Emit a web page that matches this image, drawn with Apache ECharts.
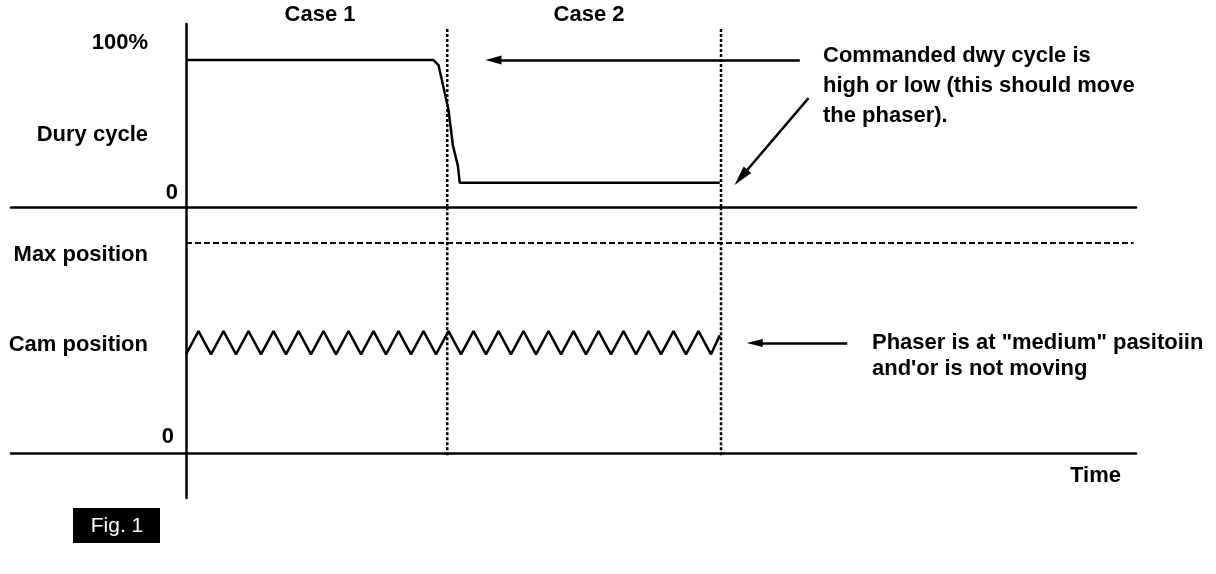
<!DOCTYPE html>
<html>
<head>
<meta charset="utf-8">
<title>Fig. 1</title>
<script src="https://cdn.jsdelivr.net/npm/echarts@6/dist/echarts.min.js"></script>
<style>
  html, body { margin: 0; padding: 0; background: #fff; }
  #chart { width: 1216px; height: 574px; }
</style>
</head>
<body>
<div id="chart"></div>
<script>
// time in half-wiggle units of the cam trace
const dutyTime = [0, 19.8, 20.2, 21.0, 21.35, 21.75, 21.9, 42.7]
const dutyCycle = [100, 100, 96.6, 66, 42, 28, 16.5, 16.5]

const camTime = [0, 1, 2, 3, 4, 5, 6, 7, 8, 9, 10, 11, 12, 13, 14, 15, 16, 17, 18, 19, 20,
  21, 22, 23, 24, 25, 26, 27, 28, 29, 30, 31, 32, 33, 34, 35, 36, 37, 38, 39, 40, 41, 42, 42.7]
const camPosition = [47, 58, 47, 58, 47, 58, 47, 58, 47, 58, 47, 58, 47, 58, 47, 58, 47, 58, 47, 58, 47,
  58, 47, 58, 47, 58, 47, 58, 47, 58, 47, 58, 47, 58, 47, 58, 47, 58, 47, 58, 47, 58, 47, 56]

const maxPosition = 100
const maxPositionEnd = 75.8
const caseBounds = [20.9, 42.8]

const dutyTicks = [0, 50, 100]
const dutyTickLabels = ['0', 'Dury cycle', '100%']
const camTicks = [0, 52.4, 100]
const camTickLabels = ['0', 'Cam position', 'Max position']

const FONT = '"Liberation Sans", Arial, Helvetica, sans-serif'
const black = '#000'
// y axes sit at time 0, i.e. 175px right of the grid edge
const yOffset = -175

function txt(pad) {
  return { fontFamily: FONT, fontSize: 22, fontWeight: 'bold', color: black, padding: pad }
}

function zip(xs, ys) {
  return xs.map((x, i) => [x, ys[i]])
}

function arrow(from, to, size) {
  return [
    { coord: from, symbol: 'none' },
    { coord: to, symbol: 'triangle', symbolSize: size }
  ]
}

const lineOpts = { type: 'line', symbol: 'none', silent: true, animation: false }

const xAxisBase = {
  type: 'value',
  min: -14,
  max: 76,
  axisLine: { show: true, onZero: true, lineStyle: { color: black, width: 2.5 } },
  axisTick: { show: false },
  axisLabel: { show: false },
  splitLine: { show: false }
}

let chart = echarts.init(document.getElementById('chart'))

const option = {
  backgroundColor: '#fff',
  animation: false,
  grid: [
    { left: 11, right: 80, top: 24, height: 183, outerBoundsMode: 'none' },
    { left: 11, right: 80, top: 207, height: 291, outerBoundsMode: 'none' }
  ],
  xAxis: [
    { ...xAxisBase, gridIndex: 0 },
    {
      ...xAxisBase,
      gridIndex: 1,
      name: 'Time',
      nameLocation: 'end',
      nameGap: 0,
      nameTextStyle: { ...txt([12, 15, 0, 0]), align: 'right', verticalAlign: 'top' }
    }
  ],
  yAxis: [
    {
      type: 'value',
      gridIndex: 0,
      min: 0,
      max: 124.5,
      offset: yOffset,
      axisLine: { show: true, onZero: false, lineStyle: { color: black, width: 2.5 } },
      axisTick: { show: false },
      splitLine: { show: false },
      axisLabel: {
        customValues: dutyTicks,
        margin: 8,
        formatter: (v) => {
          const i = dutyTicks.indexOf(v)
          return '{r' + i + '|' + dutyTickLabels[i] + '}'
        },
        rich: {
          r0: txt([0, 0, 28, 0]),
          r1: txt([3, 30, 0, 0]),
          r2: txt([0, 30, 34, 0])
        }
      }
    },
    {
      type: 'value',
      gridIndex: 1,
      min: -21.4,
      max: 117.1,
      offset: yOffset,
      axisLine: { show: true, onZero: false, lineStyle: { color: black, width: 2.5 } },
      axisTick: { show: false },
      splitLine: { show: false },
      axisLabel: {
        customValues: camTicks,
        margin: 8,
        formatter: (v) => {
          const i = camTicks.indexOf(v)
          return '{r' + i + '|' + camTickLabels[i] + '}'
        },
        rich: {
          r0: txt([0, 4, 32, 0]),
          r1: txt([4, 30, 0, 0]),
          r2: txt([24, 30, 0, 0])
        }
      }
    }
  ],
  series: [
    {
      ...lineOpts,
      name: 'Duty cycle',
      xAxisIndex: 0,
      yAxisIndex: 0,
      data: zip(dutyTime, dutyCycle),
      lineStyle: { color: black, width: 2.5 },
      markLine: {
        silent: true,
        label: { show: false },
        lineStyle: { color: black, width: 2.5, type: 'solid' },
        data: [
          arrow([49.1, 100], [24.6, 100], [9, 16]),
          arrow([49.8, 74.1], [44.4, 20.2], [10, 20])
        ]
      }
    },
    ...caseBounds.map((t) => ({
      ...lineOpts,
      xAxisIndex: 0,
      yAxisIndex: 0,
      data: [[t, 0], [t, 122.5]],
      lineStyle: { color: black, width: 2.5, type: [3, 2] }
    })),
    ...caseBounds.map((t) => ({
      ...lineOpts,
      xAxisIndex: 1,
      yAxisIndex: 1,
      data: [[t, -1], [t, 117.1]],
      lineStyle: { color: black, width: 2.5, type: [3, 2] }
    })),
    {
      ...lineOpts,
      name: 'Max position',
      xAxisIndex: 1,
      yAxisIndex: 1,
      data: [[0, maxPosition], [maxPositionEnd, maxPosition]],
      lineStyle: { color: black, width: 2, type: [6, 3] }
    },
    {
      ...lineOpts,
      name: 'Cam position',
      xAxisIndex: 1,
      yAxisIndex: 1,
      data: zip(camTime, camPosition),
      lineStyle: { color: black, width: 2.5 },
      markLine: {
        silent: true,
        label: { show: false },
        lineStyle: { color: black, width: 2.5, type: 'solid' },
        data: [arrow([52.9, 52.4], [45.5, 52.4], [8, 16])]
      }
    }
  ],
  graphic: [
    {
      type: 'text', x: 320, y: 15,
      style: { text: 'Case 1', fontFamily: FONT, fontSize: 22, fontWeight: 'bold', fill: black, align: 'center', verticalAlign: 'middle' }
    },
    {
      type: 'text', x: 589, y: 15,
      style: { text: 'Case 2', fontFamily: FONT, fontSize: 22, fontWeight: 'bold', fill: black, align: 'center', verticalAlign: 'middle' }
    },
    {
      type: 'text', x: 823, y: 86,
      style: {
        text: 'Commanded dwy cycle is\nhigh or low (this should move\nthe phaser).',
        fontFamily: FONT, fontSize: 22, fontWeight: 'bold', fill: black, lineHeight: 30,
        align: 'left', verticalAlign: 'middle'
      }
    },
    {
      type: 'text', x: 872, y: 356,
      style: {
        text: 'Phaser is at "medium" pasitoiin\nand\'or is not moving',
        fontFamily: FONT, fontSize: 22, fontWeight: 'bold', fill: black, lineHeight: 26,
        align: 'left', verticalAlign: 'middle'
      }
    },
    {
      type: 'rect',
      shape: { x: 73, y: 508, width: 87, height: 35 },
      style: { fill: black }
    },
    {
      type: 'text', x: 117, y: 526,
      style: { text: 'Fig. 1', fontFamily: FONT, fontSize: 21, fill: '#fff', align: 'center', verticalAlign: 'middle' }
    }
  ]
}

chart.setOption(option)
</script>
</body>
</html>
